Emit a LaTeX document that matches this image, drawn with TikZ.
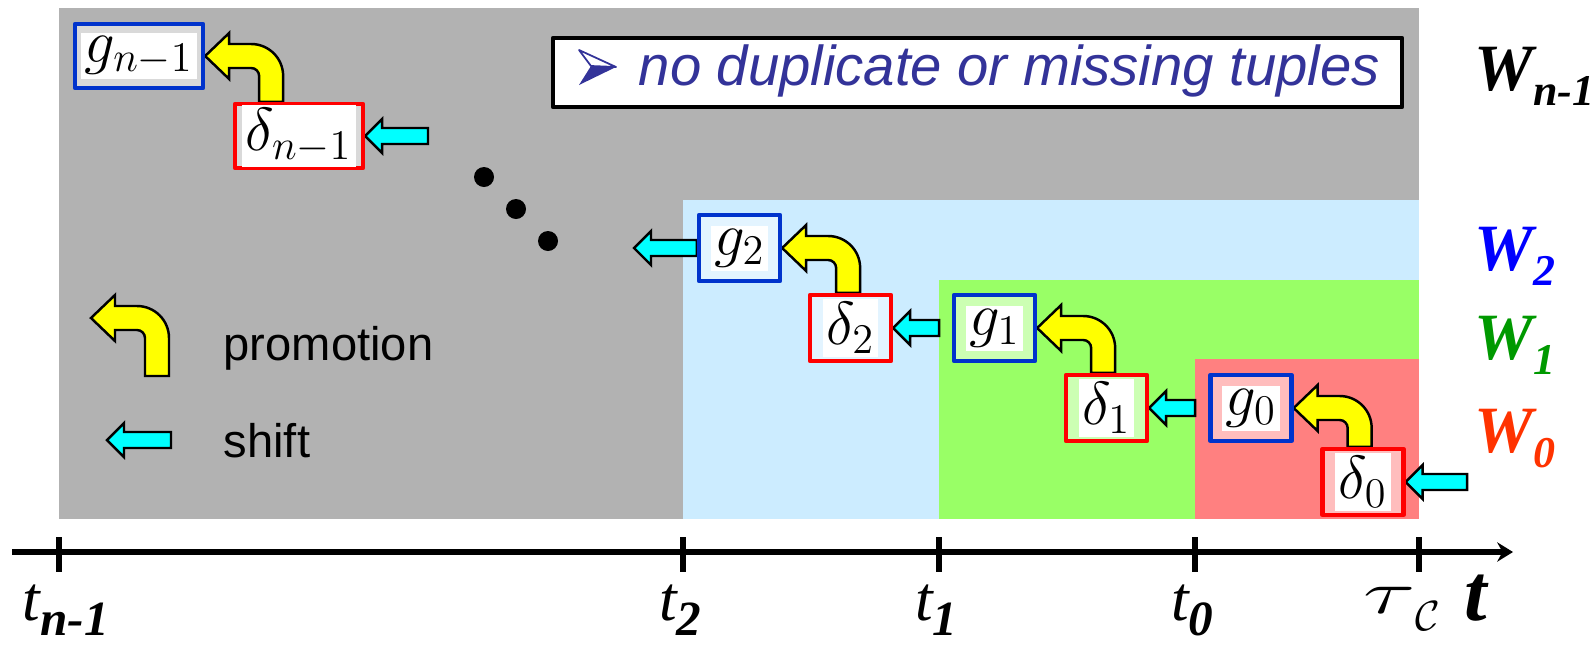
\documentclass[tikz,border=0pt]{standalone}
\usepackage{fontspec}
\setmainfont{Liberation Sans}
\newfontfamily\timesfont{Liberation Serif}
\usetikzlibrary{calc,arrows.meta,backgrounds}

\definecolor{bggray}{HTML}{B2B2B2}
\definecolor{bgblue}{HTML}{CCECFF}
\definecolor{bggreen}{HTML}{99FF66}
\definecolor{bgred}{HTML}{FF8080}
\definecolor{boxblue}{HTML}{0033CC}
\definecolor{boxred}{HTML}{FF0000}
\definecolor{ingray}{HTML}{D9D9D9}
\definecolor{inblue}{HTML}{E3F4FF}
\definecolor{ingreen}{HTML}{CCFFB3}
\definecolor{inred}{HTML}{FFBDBD}
\definecolor{promoyellow}{HTML}{FFFF00}
\definecolor{shiftcyan}{HTML}{00FFFF}
\definecolor{msgblue}{HTML}{333399}
\definecolor{wblue}{HTML}{0000FF}
\definecolor{wgreen}{HTML}{009900}
\definecolor{wred}{HTML}{FF3300}

\setlength{\fboxsep}{1pt}

% bent promotion arrow: tip at #1, foot of the shaft at the height of #2
\newcommand{\promo}[2]{%
  \begin{scope}[shift={(#1)}]
    \filldraw[promo] (0,0) -- (24,-23) -- (24,-12) -- (46,-12)
      .. controls (63.7,-12) and (78,2.3) .. (78,20)
      -- (78,0 |- #2) -- (54,0 |- #2) -- (54,20)
      .. controls (54,15.6) and (50.4,12) .. (46,12)
      -- (24,12) -- (24,23) -- cycle;
  \end{scope}}
% straight shift arrow: tip at #1, tail at the x of #2
\newcommand{\shiftarrow}[2]{%
  \filldraw[shiftarr] (#1) -- ++(17,-17) -- ++(0,9)
    -- ($(#1 -| #2)+(0,-8)$) -- ++(0,16) -- ($(#1)+(17,8)$)
    -- ++(0,9) -- cycle;}

\newcommand{\Wlab}[1]{{\timesfont\bfseries\itshape\fontsize{18.8}{22}\selectfont
  W\raisebox{-4.3pt}{\fontsize{12.5}{15}\selectfont #1}}}
\newcommand{\tlab}[1]{{\timesfont\itshape\fontsize{18}{20}\selectfont
  t\rlap{\raisebox{-4.5pt}{\bfseries\fontsize{14}{16}\selectfont #1}}}}

\begin{document}
\begin{tikzpicture}[x=0.01cm,y=-0.01cm,line join=round,
  wbox/.style={line width=1.2pt,minimum width=0.81cm,minimum height=0.66cm,
    inner sep=0pt,font=\fontsize{17}{20}\selectfont},
  gbox/.style={wbox,draw=boxblue},
  dbox/.style={wbox,draw=boxred},
  wide/.style={minimum width=1.28cm,minimum height=0.64cm},
  promo/.style={fill=promoyellow,draw=black,line width=0.7pt},
  shiftarr/.style={fill=shiftcyan,draw=black,line width=0.7pt},
  wlabel/.style={anchor=base west,inner sep=0pt},
  axis/.style={line width=1.7pt}]
  \useasboundingbox (0,0) rectangle (1595,648);

  % message box
  \draw[line width=1.3pt,fill=white] (553,38) rectangle (1402,107);
  \filldraw[fill=white,draw=msgblue,line width=0.5pt] (579,50) -- (616,67) -- (591,66) -- cycle;
  \fill[msgblue] (591,66) -- (616,67) -- (579,85) -- cycle;
  \node[anchor=base west,text=msgblue,inner sep=0pt,
    font=\itshape\fontsize{16}{19}\selectfont] (msg) at (638,85)
    {no duplicate or missing tuples};

  % boxes
  \node[gbox,wide,fill=ingray] (gn) at (139,56) {\colorbox{white}{$g_{n-1}$}};
  \node[dbox,wide,fill=ingray] (dn) at (299,136) {\colorbox{white}{$\delta_{n-1}$}};
  \node[gbox,fill=inblue] (g2) at (739.5,248) {\colorbox{white}{$g_2$}};
  \node[dbox,fill=inblue] (d2) at (850.5,328) {\colorbox{white}{$\delta_2$}};
  \node[gbox,fill=ingreen] (g1) at (994.5,328) {\colorbox{white}{$g_1$}};
  \node[dbox,fill=ingreen] (d1) at (1106.5,408) {\colorbox{white}{$\delta_1$}};
  \node[gbox,fill=inred] (g0) at (1251,408) {\colorbox{white}{$g_0$}};
  \node[dbox,fill=inred] (d0) at (1363,482) {\colorbox{white}{$\delta_0$}};

  % dots
  \foreach \p in {(484,177),(516,209),(548,241)}
    \fill \p circle (10);

  % legend
  \coordinate (legtip) at (91,318);
  \coordinate (legfoot) at (159,376);
  \coordinate (legshift) at (107,440);
  \coordinate (legtail) at (171,440);
  \node[anchor=base west,inner sep=0pt,font=\fontsize{13.4}{16}\selectfont] (promotion) at (223,360) {promotion};
  \node[anchor=base west,inner sep=0pt,font=\fontsize{13.4}{16}\selectfont] (shift) at (223,457) {shift};

  % window labels
  \node[wlabel] (Wn) at (1474,90) {\Wlab{n-1}};
  \node[wlabel,text=wblue] (W2) at (1474,270) {\Wlab{2}};
  \node[wlabel,text=wgreen] (W1) at (1474,359) {\Wlab{1}};
  \node[wlabel,text=wred] (W0) at (1474,452) {\Wlab{0}};

  % time axis
  \draw[axis,-{Stealth[length=4.5pt,width=5.5pt,inset=1.5pt]}] (12,552) -- (1513,552);
  \foreach \x in {59,683,939,1195,1419}
    \draw[axis] (\x,537) -- (\x,572);
  \node[anchor=base west,inner sep=0pt] (tn) at (22,620) {\tlab{n-1}};
  \node[anchor=base,inner sep=0pt] (t2) at (668,620) {\tlab{2}};
  \node[anchor=base,inner sep=0pt] (t1) at (924,620) {\tlab{1}};
  \node[anchor=base,inner sep=0pt] (t0) at (1180,620) {\tlab{0}};
  \node[anchor=base west,inner sep=0pt,font=\fontsize{17}{20}\selectfont] (tauC) at (1363,613)
    {$\scalebox{1.6}[1]{$\tau$}$\raisebox{-5pt}{$\scriptstyle\mathcal{C}$}};
  \node[anchor=base west,inner sep=0pt] (t) at (1464,620)
    {\timesfont\bfseries\itshape\fontsize{23}{25}\selectfont t};

  \coordinate (ntail) at (428,136);
  \coordinate (g2tip) at (634,248);
  \coordinate (e1) at (939,328);
  \coordinate (e0) at (1195,408);
  \coordinate (intail) at (1467,482);

  \begin{scope}[on background layer]
    \fill[bggray] (59,8) rectangle (1419,519);
    \fill[bgblue] (683,200) rectangle (1419,519);
    \fill[bggreen] (939,280) rectangle (1419,519);
    \fill[bgred] (1195,359) rectangle (1419,519);
    \promo{gn.east}{dn.north}
    \promo{g2.east}{d2.north}
    \promo{g1.east}{d1.north}
    \promo{g0.east}{d0.north}
    \promo{legtip}{legfoot}
    \shiftarrow{dn.east}{ntail}
    \shiftarrow{g2tip}{g2.west}
    \shiftarrow{d2.east}{e1}
    \shiftarrow{d1.east}{e0}
    \shiftarrow{d0.east}{intail}
    \shiftarrow{legshift}{legtail}
  \end{scope}
\end{tikzpicture}
\end{document}
